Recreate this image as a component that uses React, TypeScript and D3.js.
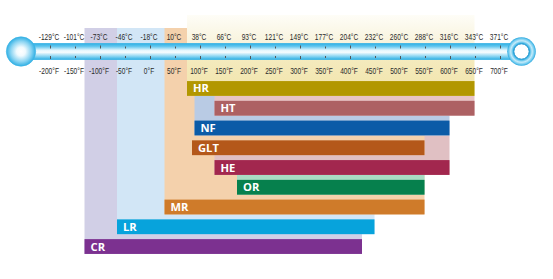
import React from "react";
import * as d3 from "d3";

const W = 553;
const H = 279;

// Temperature scale ticks
const ticksF = [-200, -150, -100, -50, 0, 50, 100, 150, 200, 250, 300, 350, 400, 450, 500, 550, 600, 650, 700];
const ticksC = [-129, -101, -73, -46, -18, 10, 38, 66, 93, 121, 149, 177, 204, 232, 260, 288, 316, 343, 371];

// Materials (rows)
const materials = ["HR", "HT", "NF", "GLT", "HE", "OR", "MR", "LR", "CR"];
const minF = [75, 130, 90, 85, 130, 175, 30, -65, -130];
const maxF = [650, 650, 600, 550, 600, 550, 550, 450, 425];
const barColors = ["#b29700", "#ad6163", "#0b5ba7", "#b4581a", "#a2274e", "#06804d", "#cf7b2a", "#07a3dc", "#7c3190"];
const haloColors = ["url(#hrHalo)", "#e7c4c5", "#b9cbe4", "#f4d1ac", "#e0c0c3", "#a9dcc3", "#f4d1ac", "#d2e6f6", "#d1cfe6"];
// row from which each light range rectangle starts ("top" = top of the scale)
const haloFrom = ["top", "HT", "HT", "GLT", "GLT", "OR", "top", "top", "top"];

export default function App() {
  const x = d3.scaleLinear().domain([-200, 700]).range([49.5, 499.5]);
  const y = d3.scaleBand<string>().domain(materials).range([78.6, 256.4]).paddingInner(0.25).paddingOuter(0.125);
  const bw = y.bandwidth();
  const gap = y.step() - bw;
  const tubeTop = 43.5;
  const tubeBot = 59.5;
  const cy = (tubeTop + tubeBot) / 2;

  const halos = materials.map((m, i) => {
    const from = haloFrom[i];
    const top = from === "top" ? (i === 0 ? 15 : 28) : (y(from) as number) - gap;
    return { m, i, x0: x(minF[i]), x1: x(maxF[i]), top, bottom: (y(m) as number) + bw };
  }).reverse();

  const labelFont = "'Liberation Sans', Arial, sans-serif";

  return (
    <svg width={W} height={H} style={{ position: "absolute", left: 0, top: 0, background: "#fff" }}>
      <defs>
        <linearGradient id="hrHalo" gradientUnits="userSpaceOnUse" x1="0" y1="15" x2="0" y2="96">
          <stop offset="0" stopColor="#fefdf7" />
          <stop offset="0.35" stopColor="#f8f3dc" />
          <stop offset="0.57" stopColor="#f4eabc" />
          <stop offset="1" stopColor="#f1e4aa" />
        </linearGradient>
        <linearGradient id="tube" x1="0" y1="0" x2="0" y2="1">
          <stop offset="0" stopColor="#2fb0e4" />
          <stop offset="0.18" stopColor="#62c6ee" />
          <stop offset="0.42" stopColor="#e3f6fd" />
          <stop offset="0.55" stopColor="#f7fcfe" />
          <stop offset="0.78" stopColor="#93d8f3" />
          <stop offset="1" stopColor="#2fb0e4" />
        </linearGradient>
        <radialGradient id="bulb" cx="0.5" cy="0.5" r="0.5">
          <stop offset="0" stopColor="#ffffff" />
          <stop offset="0.3" stopColor="#f0fafe" />
          <stop offset="0.7" stopColor="#8ad4f2" />
          <stop offset="1" stopColor="#2fafe4" />
        </radialGradient>
        <radialGradient id="ring" cx="0.5" cy="0.5" r="0.5">
          <stop offset="0.5" stopColor="#1c9cd6" />
          <stop offset="0.6" stopColor="#4fbde9" />
          <stop offset="0.75" stopColor="#c6ebf9" />
          <stop offset="0.9" stopColor="#6ecaef" />
          <stop offset="1" stopColor="#27a6de" />
        </radialGradient>
      </defs>

      {/* light range rectangles */}
      {halos.map((h) => (
        <rect key={"h" + h.m} x={h.x0} y={h.top} width={h.x1 - h.x0} height={h.bottom - h.top} fill={haloColors[h.i]} />
      ))}

      {/* thermometer tube */}
      <rect x={28} y={tubeTop} width={486} height={tubeBot - tubeTop} fill="url(#tube)" stroke="#3bb4e5" strokeWidth={0.8} />
      <circle cx={21} cy={cy} r={14.7} fill="url(#bulb)" stroke="#3fb6e6" strokeWidth={0.6} />
      <circle cx={521.5} cy={cy} r={14.3} fill="url(#ring)" />
      <circle cx={521.5} cy={cy} r={7.7} fill="#ffffff" stroke="#1a95d0" strokeWidth={1} />

      {/* tick marks */}
      {ticksF.map((f) => {
        const major = f % 100 === 0;
        const tx = Math.round(x(f)) + 0.5;
        return (
          <g key={"t" + f} stroke="#555" strokeWidth={1}>
            <line x1={tx} x2={tx} y1={major ? 45.5 : 46.5} y2={48.5} />
            <line x1={tx} x2={tx} y1={56} y2={major ? 59 : 58} />
          </g>
        );
      })}

      {/* labels (condensed) */}
      <g fontFamily={labelFont} fontSize={9.3} fill="#2a2a2a" textAnchor="middle">
        {ticksC.map((c, i) => (
          <text key={"c" + i} transform={`translate(${x(ticksF[i]) - 0.5},39.6) scale(0.71,1)`}>{c}°C</text>
        ))}
        {ticksF.map((f) => (
          <text key={"f" + f} transform={`translate(${x(f) - 0.5},74.4) scale(0.71,1)`}>{f}°F</text>
        ))}
      </g>

      {/* bars */}
      {materials.map((m, i) => (
        <g key={"b" + m}>
          <rect x={x(minF[i])} y={y(m)} width={x(maxF[i]) - x(minF[i])} height={bw} fill={barColors[i]} />
          <text x={x(minF[i]) + 6} y={(y(m) as number) + bw / 2 + 4} fill="#fff" fontFamily="'Open Sans', sans-serif" fontWeight={700} fontSize={11.2}>{m}</text>
        </g>
      ))}
    </svg>
  );
}
